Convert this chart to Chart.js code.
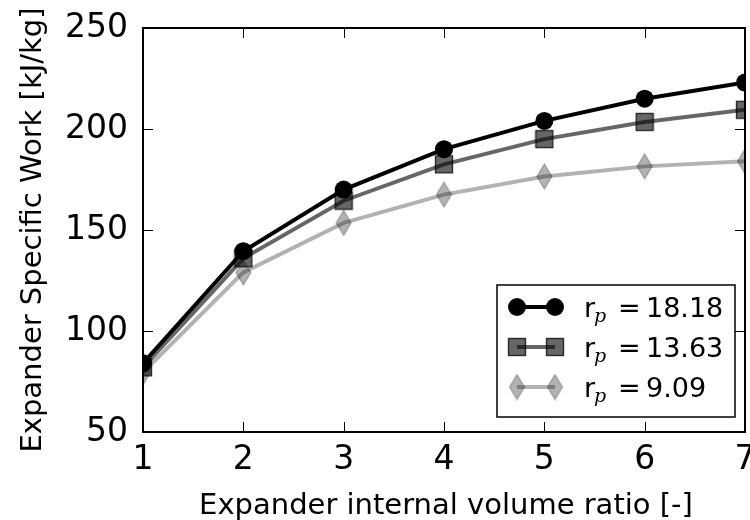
<!DOCTYPE html>
<html lang="en">
<head>
  <meta charset="UTF-8" />
  <title>Expander Specific Work</title>
  <script src="https://cdn.jsdelivr.net/npm/chart.js"></script>
  <style>
    html, body { margin: 0; padding: 0; background: #fff; }
    #wrap { width: 750px; height: 520px; position: relative; }
  </style>
</head>
<body>
  <div id="wrap"><canvas id="chart" width="750" height="520"></canvas></div>

  <script>
    // data
    const volumeRatio = [1, 2, 3, 4, 5, 6, 7];
    const work1818 = [84, 139.5, 170, 190, 204, 215, 223];
    const work1363 = [82, 136, 164.5, 182.5, 195, 203.5, 209.5];
    const work909  = [79.5, 129, 153.5, 167.5, 176.5, 181.5, 184];
    const seriesLabels = ['18.18', '13.63', '9.09'];
    const xTickValues = [1, 2, 3, 4, 5, 6, 7];
    const yTickValues = [50, 100, 150, 200, 250];
    const xTitle = 'Expander internal volume ratio [-]';
    const yTitle = 'Expander Specific Work [kJ/kg]';

    const FONT = "'DejaVu Sans', sans-serif";

    // marker images (matplotlib-like square and tall diamond)
    function squareMarker() {
      const c = document.createElement('canvas');
      c.width = 20; c.height = 20;
      const g = c.getContext('2d');
      g.fillStyle = 'rgba(0,0,0,0.6)';
      g.fillRect(1, 1, 18, 18);
      g.strokeStyle = 'rgba(0,0,0,0.6)';
      g.lineWidth = 1.5;
      g.strokeRect(1.5, 1.5, 17, 17);
      return c;
    }
    function diamondMarker() {
      const c = document.createElement('canvas');
      c.width = 17; c.height = 27;
      const g = c.getContext('2d');
      g.beginPath();
      g.moveTo(8.5, 1); g.lineTo(16, 13.5); g.lineTo(8.5, 26); g.lineTo(1, 13.5);
      g.closePath();
      g.fillStyle = 'rgba(0,0,0,0.3)';
      g.fill();
      g.strokeStyle = 'rgba(0,0,0,0.3)';
      g.lineWidth = 1.2;
      g.stroke();
      return c;
    }
    const sqImg = squareMarker();
    const diaImg = diamondMarker();

    const toPoints = ys => volumeRatio.map((x, i) => ({ x: x, y: ys[i] }));

    const framePlugin = {
      id: 'frame',
      afterDatasetsDraw(chart) {
        const { ctx, chartArea: a, scales } = chart;
        ctx.save();
        // inward ticks
        ctx.strokeStyle = '#000';
        ctx.lineWidth = 1;
        xTickValues.forEach(v => {
          const px = Math.round(scales.x.getPixelForValue(v)) + 0.5;
          ctx.beginPath();
          ctx.moveTo(px, a.bottom); ctx.lineTo(px, a.bottom - 10);
          ctx.moveTo(px, a.top); ctx.lineTo(px, a.top + 10);
          ctx.stroke();
        });
        yTickValues.forEach(v => {
          const py = Math.round(scales.y.getPixelForValue(v)) + 0.5;
          ctx.beginPath();
          ctx.moveTo(a.left, py); ctx.lineTo(a.left + 10, py);
          ctx.moveTo(a.right, py); ctx.lineTo(a.right - 10, py);
          ctx.stroke();
        });
        // frame
        ctx.lineWidth = 2;
        ctx.strokeRect(a.left, a.top, a.right - a.left, a.bottom - a.top);

        // axis titles
        ctx.fillStyle = '#000';
        ctx.font = '29px ' + FONT;
        ctx.textAlign = 'center';
        ctx.textBaseline = 'alphabetic';
        ctx.fillText(xTitle, (a.left + a.right) / 2 + 2, 514);
        ctx.save();
        ctx.translate(41, (a.top + a.bottom) / 2);
        ctx.rotate(-Math.PI / 2);
        ctx.fillText(yTitle, 0, 0);
        ctx.restore();

        // legend
        const lx = 497, ly = 285, lw = 238, lh = 132;
        ctx.fillStyle = '#fff';
        ctx.fillRect(lx, ly, lw, lh);
        ctx.lineWidth = 1.5;
        ctx.strokeStyle = '#000';
        ctx.strokeRect(lx, ly, lw, lh);

        const rows = [
          { color: '#000', marker: 'circle' },
          { color: 'rgba(0,0,0,0.6)', marker: sqImg },
          { color: 'rgba(0,0,0,0.3)', marker: diaImg }
        ];
        rows.forEach((r, i) => {
          const cy = 307 + i * 40;
          const x1 = 517, x2 = 555;
          ctx.strokeStyle = r.color;
          ctx.lineWidth = 4;
          ctx.beginPath();
          ctx.moveTo(x1, cy); ctx.lineTo(x2, cy);
          ctx.stroke();
          [x1, x2].forEach(mx => {
            if (r.marker === 'circle') {
              ctx.fillStyle = '#000';
              ctx.beginPath();
              ctx.arc(mx, cy, 9, 0, Math.PI * 2);
              ctx.fill();
            } else {
              ctx.drawImage(r.marker, mx - r.marker.width / 2, cy - r.marker.height / 2);
            }
          });
          // r_p = value
          const base = cy + 10;
          ctx.fillStyle = '#000';
          ctx.textAlign = 'left';
          ctx.font = '27px ' + FONT;
          ctx.fillText('r', 584, base);
          ctx.font = "italic 19px 'DejaVu Serif', serif";
          ctx.fillText('p', 594, base + 5);
          ctx.font = '27px ' + FONT;
          ctx.fillText('=', 618, base);
          ctx.fillText(seriesLabels[i], 646, base);
        });
        ctx.restore();
      }
    };

    new Chart(document.getElementById('chart'), {
      type: 'line',
      data: {
        datasets: [
          {
            label: 'r_p = ' + seriesLabels[0],
            data: toPoints(work1818),
            borderColor: '#000',
            backgroundColor: '#000',
            borderWidth: 4,
            pointStyle: 'circle',
            pointRadius: 9,
            pointBorderWidth: 0,
            pointBackgroundColor: '#000',
            clip: 0
          },
          {
            label: 'r_p = ' + seriesLabels[1],
            data: toPoints(work1363),
            borderColor: 'rgba(0,0,0,0.6)',
            borderWidth: 4,
            pointStyle: sqImg,
            pointRadius: 9,
            clip: 0
          },
          {
            label: 'r_p = ' + seriesLabels[2],
            data: toPoints(work909),
            borderColor: 'rgba(0,0,0,0.3)',
            borderWidth: 4,
            pointStyle: diaImg,
            pointRadius: 9,
            clip: 0
          }
        ]
      },
      options: {
        responsive: false,
        animation: false,
        events: [],
        layout: { autoPadding: false, padding: { top: 28, right: 5, left: 0, bottom: 0 } },
        elements: { line: { tension: 0 } },
        plugins: { legend: { display: false }, tooltip: { enabled: false } },
        scales: {
          x: {
            type: 'linear',
            min: 1, max: 7,
            grid: { display: false, drawTicks: false },
            border: { display: false },
            ticks: { stepSize: 1, color: '#000', font: { family: FONT, size: 33 }, padding: 9 },
            afterFit(s) { s.height = 88; s.paddingLeft = 0; s.paddingRight = 0; }
          },
          y: {
            min: 50, max: 250,
            grid: { display: false, drawTicks: false },
            border: { display: false },
            ticks: { stepSize: 50, color: '#000', font: { family: FONT, size: 33 }, padding: 15 },
            afterFit(s) { s.width = 143; s.paddingTop = 0; s.paddingBottom = 0; }
          }
        }
      },
      plugins: [framePlugin]
    });
  </script>
</body>
</html>
